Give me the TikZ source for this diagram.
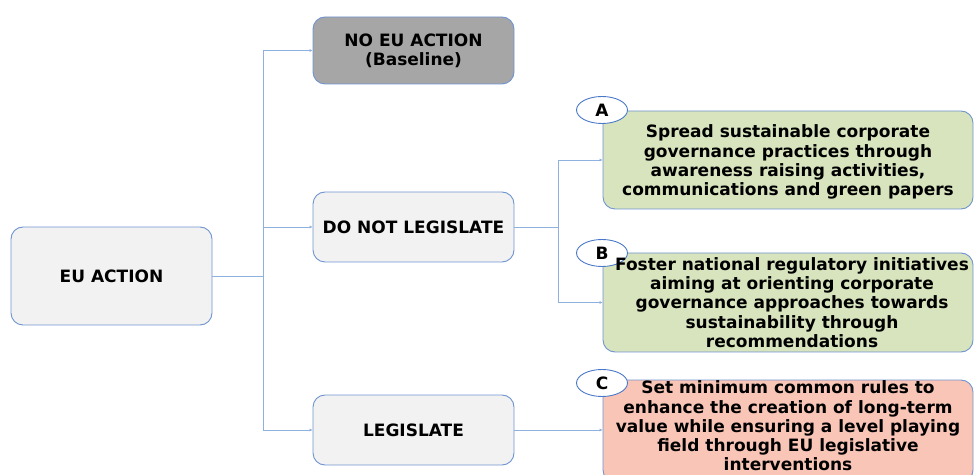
\documentclass[tikz,border=0pt]{standalone}
\usepackage{fontspec}
\setmainfont{DejaVu Sans}
\usepackage{tikz}
\usepackage{xcolor}
\usetikzlibrary{shapes.geometric,arrows.meta}

\definecolor{boxline}{HTML}{6F94CF}
\definecolor{tagline}{HTML}{4A78C8}
\definecolor{connline}{HTML}{8EB1E0}
\definecolor{lightbox}{HTML}{F2F2F2}
\definecolor{darkbox}{HTML}{A6A6A6}
\definecolor{greenbox}{HTML}{D7E4BD}
\definecolor{pinkbox}{HTML}{F9C5B7}

\tikzset{
  boxfont/.style={font=\fontsize{17}{19.2}\selectfont\bfseries},
  choice/.style={draw=boxline, line width=0.9pt, rounded corners=12pt, fill=lightbox,
    inner sep=0pt, align=center, boxfont},
  option/.style={choice, minimum width=370pt},
  optiontext/.style={align=center, boxfont, inner sep=0pt},
  tag/.style={ellipse, draw=tagline, line width=0.9pt, fill=white, inner sep=0pt,
    minimum width=51pt, minimum height=27pt, boxfont},
  conn/.style={draw=connline, line width=0.8pt, -{Latex[length=3pt,width=3pt]}}
}

\begin{document}
\begin{tikzpicture}[x=1pt,y=1pt]
\clip (0,0) rectangle (974,474);

\node[choice, minimum width=201pt, minimum height=98pt] (eu) at (111.5,198) {EU ACTION};
\node[choice, fill=darkbox, minimum width=201pt, minimum height=67pt] (noeu) at (413.5,423.5) {NO EU ACTION\\(Baseline)};
\node[choice, minimum width=201pt, minimum height=70pt] (dnl) at (413.5,247) {DO NOT LEGISLATE};
\node[choice, minimum width=201pt, minimum height=70pt] (leg) at (413.5,44) {LEGISLATE};

\node[option, fill=greenbox, minimum height=98pt] (optA) at (788,314) {};
\node[option, fill=greenbox, minimum height=99pt] (optB) at (788,171.5) {};
\node[option, fill=pinkbox, minimum height=102pt] (optC) at (788,43) {};

\node[tag] (tagA) at (602,364) {A};
\node[tag] (tagB) at (602,221) {B};
\node[tag] (tagC) at (602,91) {C};

\node[optiontext] (textA) at ([yshift=-2pt]optA.center) {Spread sustainable corporate\\governance practices through\\awareness raising activities,\\communications and green papers};
\node[optiontext] (textB) at ([xshift=4pt]optB.center) {Foster national regulatory initiatives\\aiming at orienting corporate\\governance approaches towards\\sustainability through\\recommendations};
\node[optiontext] (textC) at ([yshift=5pt]optC.center) {Set minimum common rules to\\enhance the creation of long-term\\value while ensuring a level playing\\field through EU legislative\\interventions};

\draw[conn] (eu.east) -- ++(51,0) |- (noeu.west);
\draw[conn] (eu.east) -- ++(51,0) |- (dnl.west);
\draw[conn] (eu.east) -- ++(51,0) |- (leg.west);
\draw[conn] (dnl.east) -- ++(44,0) |- (optA.west);
\draw[conn] (dnl.east) -- ++(44,0) |- (optB.west);
\draw[conn] (leg.east) -- (leg.east -| optC.west);
\end{tikzpicture}
\end{document}
